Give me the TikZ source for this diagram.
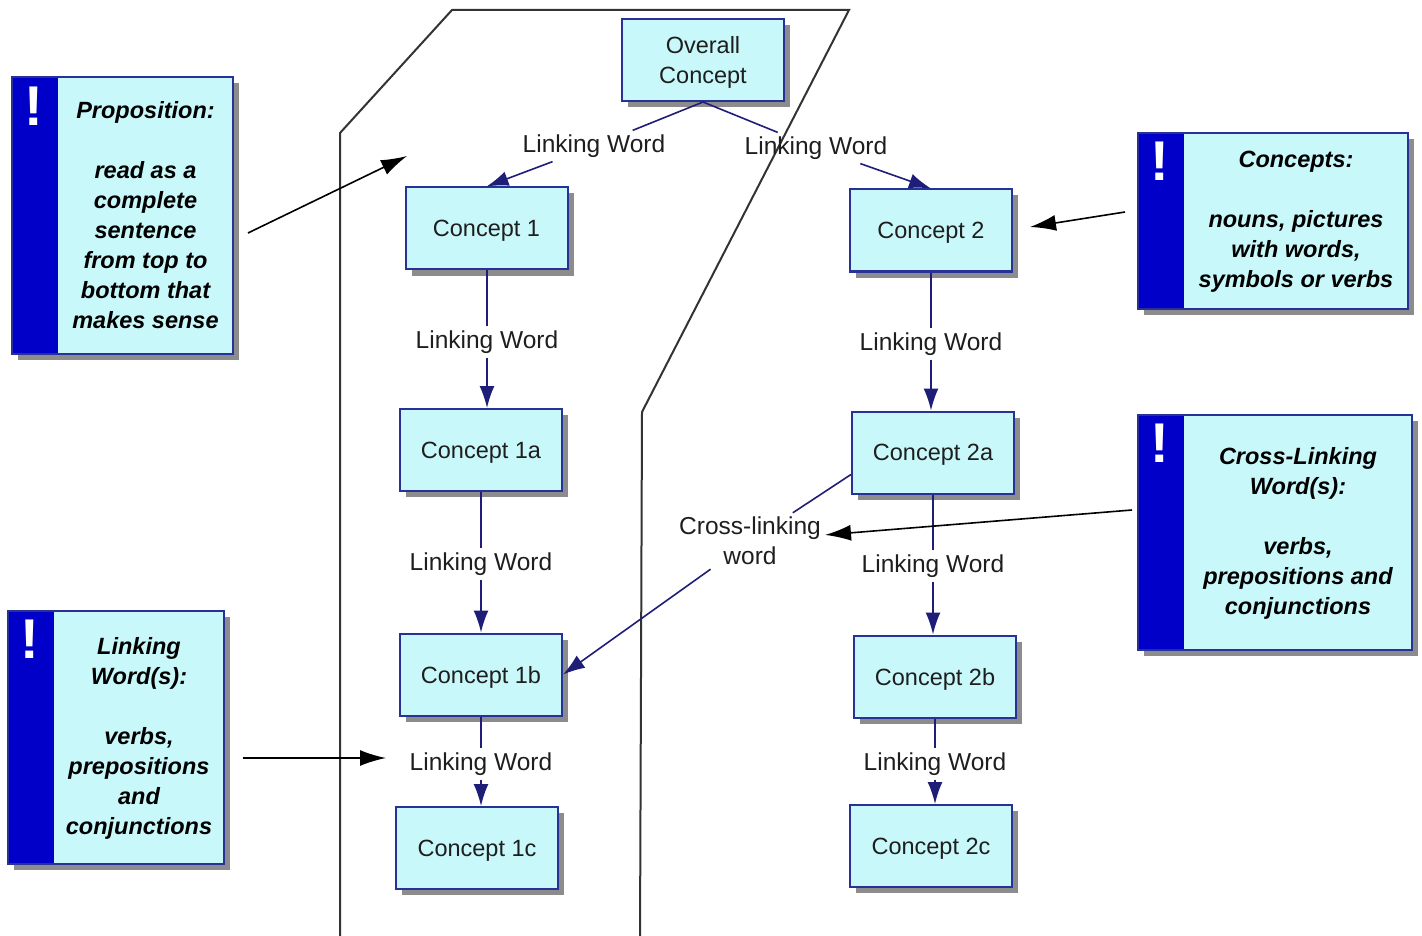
\documentclass[tikz,border=0pt]{standalone}
\usepackage{fontspec}
\setmainfont{Liberation Sans}
\usetikzlibrary{shadows,arrows.meta}

\definecolor{boxfill}{RGB}{200,248,250}
\definecolor{boxedge}{RGB}{40,50,150}
\definecolor{linkline}{RGB}{30,30,120}
\definecolor{stripeblue}{RGB}{0,0,200}
\definecolor{shade}{RGB}{140,140,140}
\definecolor{ink}{RGB}{30,30,30}

\tikzset{
  boxshadow/.style={drop shadow={shadow xshift=6pt, shadow yshift=-6pt, fill=shade, opacity=1}},
  concept/.style={draw=boxedge, line width=2pt, fill=boxfill, boxshadow,
    minimum width=162pt, minimum height=82pt, inner sep=0pt, align=center,
    text depth=0pt, font=\fontsize{23.5}{30}\selectfont, text=ink},
  linkword/.style={inner sep=4pt, align=center,
    font=\fontsize{24.5}{30}\selectfont, text=ink},
  link/.style={draw=linkline, line width=1.6pt},
  linkarrow/.style={link, -{Latex[length=22pt,width=15pt]}},
  notebox/.style={draw=boxedge, line width=2pt, fill=boxfill, boxshadow, inner sep=0pt,
    path picture={\fill[stripeblue] (path picture bounding box.north west)
      rectangle ([xshift=46pt]path picture bounding box.south west);}},
  notetext/.style={align=center, inner sep=0pt, text=black,
    font=\fontsize{23.5}{30}\selectfont\bfseries\itshape},
  bang/.style={text=white, anchor=north, inner sep=0pt,
    font=\fontsize{56}{56}\selectfont\bfseries},
  pointer/.style={draw=black, line width=1.6pt, -{Latex[length=26pt,width=16pt]}},
  outline/.style={draw=black!80, line width=2pt},
}

\begin{document}
\begin{tikzpicture}[x=1pt, y=-1pt]
\useasboundingbox (0,0) rectangle (1422,936);

% grouping outline around the left branch
\draw[outline] (340,940) -- (340,133) -- (452,10) -- (849,10) -- (642,412) -- (640,940);

% concepts
\node[concept] (ov)  at (703,60)    {Overall\\Concept};
\node[concept] (c1)  at (486.5,228.5) {Concept 1};
\node[concept] (c2)  at (931,230.5) {Concept 2};
\node[concept] (c1a) at (481,450)   {Concept 1a};
\node[concept] (c2a) at (933,452.5) {Concept 2a};
\node[concept] (c1b) at (481,674.5) {Concept 1b};
\node[concept] (c2b) at (935,676.5) {Concept 2b};
\node[concept] (c1c) at (477,848)   {Concept 1c};
\node[concept] (c2c) at (931,846)   {Concept 2c};

% linking words
\node[linkword] (lw0l) at (594,146) {Linking Word};
\node[linkword] (lw0r) at (816,148) {Linking Word};
\node[linkword] (lw1)  at (487,342) {Linking Word};
\node[linkword] (lw2)  at (931,344) {Linking Word};
\node[linkword] (lw3)  at (481,564) {Linking Word};
\node[linkword] (lw4)  at (933,566) {Linking Word};
\node[linkword] (lw5)  at (481,764) {Linking Word};
\node[linkword] (lw6)  at (935,764) {Linking Word};
\node[linkword] (xl)   at (750,541) {Cross-linking\\word};

% propositions
\draw[link] (ov.south) -- (lw0l);
\draw[linkarrow] (lw0l) -- (c1.north);
\draw[link] (ov.south) -- (lw0r);
\draw[linkarrow] (lw0r) -- (c2.north);

\draw[link] (c1.south -| lw1) -- (lw1);
\draw[linkarrow] (lw1) -- (lw1 |- c1a.north);
\draw[link] (c1a.south -| lw3) -- (lw3);
\draw[linkarrow] (lw3) -- (lw3 |- c1b.north);
\draw[link] (c1b.south -| lw5) -- (lw5);
\draw[linkarrow] (lw5) -- (lw5 |- c1c.north);

\draw[link] (c2.south -| lw2) -- (lw2);
\draw[linkarrow] (lw2) -- (lw2 |- c2a.north);
\draw[link] (c2a.south -| lw4) -- (lw4);
\draw[linkarrow] (lw4) -- (lw4 |- c2b.north);
\draw[link] (c2b.south -| lw6) -- (lw6);
\draw[linkarrow] (lw6) -- (lw6 |- c2c.north);

% cross-link
\draw[link] (c2a.-165) -- (xl);
\draw[linkarrow] (xl) -- (c1b.east);

% notes
\node[notebox, minimum width=221pt, minimum height=277pt] (pn) at (122.5,215.5) {};
\node[bang] at ([xshift=23pt,yshift=-11pt]pn.north west) {!};
\node[notetext] (pt) at (145.5,215) {Proposition:\\[30pt]read as a\\complete\\sentence\\from top to\\bottom that\\makes sense};

\node[notebox, minimum width=270pt, minimum height=176pt] (cn) at (1273,221) {};
\node[bang] at ([xshift=23pt,yshift=-10pt]cn.north west) {!};
\node[notetext] (ct) at (1296,222) {Concepts:\\[30pt]nouns, pictures\\with words,\\symbols or verbs};

\node[notebox, minimum width=274pt, minimum height=235pt] (xn) at (1275,532.5) {};
\node[bang] at ([xshift=23pt,yshift=-10pt]xn.north west) {!};
\node[notetext] (xt) at (1298,533) {Cross-Linking\\Word(s):\\[30pt]verbs,\\prepositions and\\conjunctions};

\node[notebox, minimum width=216pt, minimum height=253pt] (ln) at (116,737.5) {};
\node[bang] at ([xshift=23pt,yshift=-10pt]ln.north west) {!};
\node[notetext] (lt) at (139,738) {Linking\\Word(s):\\[30pt]verbs,\\prepositions\\and\\conjunctions};

% pointers from the notes
\coordinate (pa) at (248,233);
\coordinate (pb) at (407,156);
\coordinate (ca) at (1125,212);
\coordinate (cb) at (1030,227);
\coordinate (xa) at (1132,510);
\coordinate (la) at (243,758);
\coordinate (lb) at (386,758);
\draw[pointer] (pa) -- (pb);
\draw[pointer] (ca) -- (cb);
\draw[pointer] (xa) -- (xl);
\draw[pointer] (la) -- (lb);
\end{tikzpicture}
\end{document}
